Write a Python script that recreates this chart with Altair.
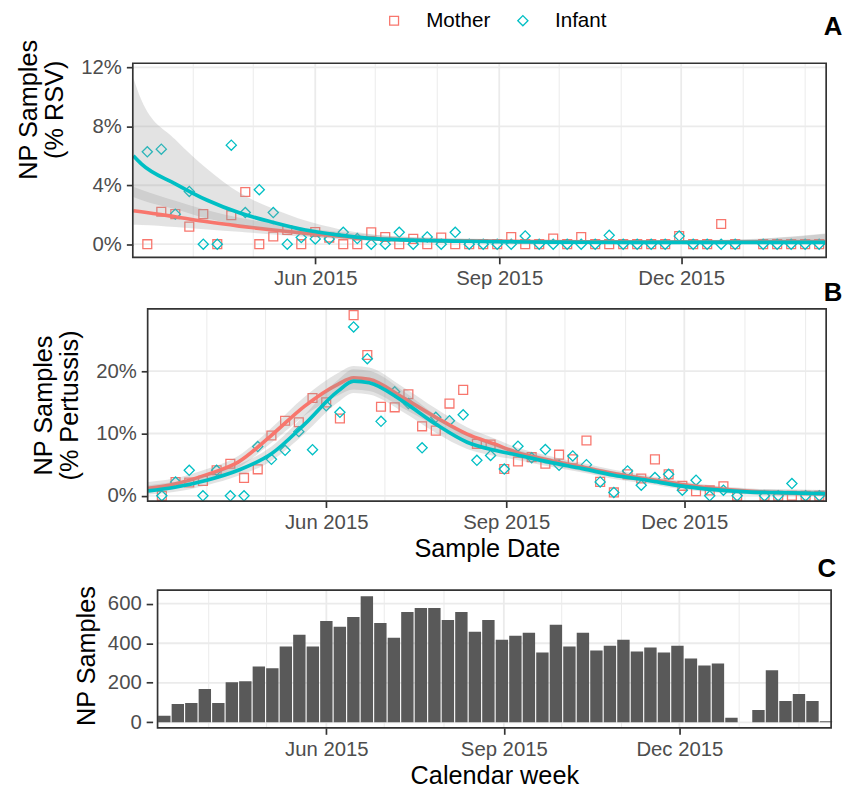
import altair as alt
import pandas as pd

FONT = "Liberation Sans"
RED = "#F8766D"
TEAL = "#00BFC4"
GRID = "#EBEBEB"
BORDER = "#333333"

# ---------------- data ----------------
week_dates = [d.strftime("%Y-%m-%d") for d in pd.date_range("2015-03-09", periods=50, freq="7D")]

weekly_samples = [33, 93, 98, 168, 98, 203, 208, 283, 273, 383, 443, 383, 513, 483, 533,
                  638, 503, 428, 558, 578, 578, 518, 558, 458, 518, 418, 438, 453, 353, 493,
                  383, 453, 363, 388, 418, 358, 378, 353, 388, 323, 288, 298, 23, None, 63,
                  263, 108, 143, 108, 5]

rsv_mother = [0, 2.2, 2.04, 1.19, 2.04, 0, 1.97, 3.54, 0, 0.52, 0.96, 0, 0.83, 0.45, 0, 0,
              0.81, 0.49, 0, 0.36, 0, 0.45, 0, 0, 0, 0, 0.49, 0, 0, 0.38, 0, 0.49, 0, 0, 0,
              0, 0, 0, 0.55, 0, 0, 1.37, 0, None, 0, 0, 0, 0, 0]
rsv_infant = [6.27, 6.45, 2.04, 3.58, 0, 0, 6.72, 2.15, 3.70, 2.15, 0, 0.45, 0.36, 0.35,
              0.81, 0.38, 0, 0, 0.81, 0, 0.49, 0, 0.81, 0, 0, 0, 0, 0.56, 0, 0, 0, 0, 0,
              0.6, 0, 0, 0, 0, 0.55, 0, 0, 0, 0, None, 0, 0, 0, 0, 0]

per_mother = [0, 2.2, 2.13, 2.4, 4.1, 5.15, 2.87, 4.25, 9.67, 12.05, 11.8, 15.7, 15.0, 12.4,
              29.0, 22.6, 14.3, 14.2, 16.3, 11.15, 10.46, 14.8, 17.0, 8.34, 8.23, 4.3, 5.5,
              6.2, 5.15, 6.6, 5.85, 8.87, 2.23, 0.54, 3.45, 2.77, 5.85, 3.45, 1.6, 0.75, 0.86,
              1.54, 0, None, 0, 0, 0, 0, 0]
per_infant = [0, 2.2, 4.1, 0, 4.1, 0, 0, 7.9, 5.85, 7.3, 10.3, 7.4, 14.45, 13.4, 27.1, 22.0,
              11.95, 16.7, 14.8, 7.7, 12.6, 12.05, 13.0, 5.7, 6.48, 4.3, 7.96, 6.1, 7.43, 4.9,
              6.4, 5.0, 2.23, 0.54, 4.0, 1.7, 2.93, 3.45, 0.9, 2.5, 0, 0.9, 0, None, 0, 0,
              1.97, 0, 0]

# fitted curves
rsv_curve_dates = ["2015-03-02", "2015-03-06", "2015-03-23", "2015-04-08", "2015-04-24",
                   "2015-05-11", "2015-05-27", "2015-06-12", "2015-06-28", "2015-07-15",
                   "2015-08-15", "2015-09-15", "2015-10-15", "2015-11-15", "2015-12-15",
                   "2016-01-15", "2016-02-11"]
rsv_m_fit = [2.27, 2.2, 1.86, 1.52, 1.23, 0.96, 0.74, 0.56, 0.40, 0.30, 0.22, 0.18, 0.16,
             0.15, 0.15, 0.16, 0.17]
rsv_m_lo = [1.32, 1.31, 1.17, 1.0, 0.84, 0.66, 0.5, 0.37, 0.25, 0.18, 0.13, 0.11, 0.1, 0.09,
            0.08, 0.07, 0.06]
rsv_m_hi = [3.9, 3.7, 2.95, 2.3, 1.8, 1.4, 1.1, 0.85, 0.65, 0.5, 0.38, 0.3, 0.26, 0.26, 0.28,
            0.42, 0.72]
rsv_i_fit = [6.0, 5.45, 4.1, 2.98, 2.13, 1.48, 0.96, 0.63, 0.40, 0.29, 0.2, 0.15, 0.13, 0.12,
             0.12, 0.12, 0.12]
rsv_i_lo = [3.2, 3.0, 2.37, 1.74, 1.3, 0.91, 0.58, 0.38, 0.23, 0.17, 0.11, 0.08, 0.07, 0.06,
            0.05, 0.04, 0.03]
rsv_i_hi = [11.3, 9.8, 7.1, 5.1, 3.5, 2.4, 1.6, 1.05, 0.7, 0.5, 0.36, 0.28, 0.24, 0.24, 0.26,
            0.4, 0.7]

per_curve_dates = ["2015-03-02", "2015-03-15", "2015-04-01", "2015-04-17", "2015-05-04",
                   "2015-05-21", "2015-06-07", "2015-06-15", "2015-06-23", "2015-07-10",
                   "2015-07-27", "2015-08-12", "2015-08-26", "2015-09-06", "2015-09-23",
                   "2015-10-10", "2015-10-26", "2015-11-12", "2015-11-29", "2015-12-16",
                   "2016-01-02", "2016-01-18", "2016-02-11"]
per_m_fit = [1.2, 1.86, 3.4, 5.4, 9.7, 14.4, 17.9, 18.95, 18.7, 15.8, 12.6, 9.9, 8.3, 7.0, 5.7,
             4.6, 3.57, 2.7, 1.86, 1.2, 0.75, 0.5, 0.35]
per_m_lo = [0.5, 1.1, 2.6, 4.5, 8.5, 12.9, 16.1, 17.05, 16.8, 14.1, 11.2, 8.8, 7.4, 6.2, 5.0,
            3.95, 2.97, 2.15, 1.36, 0.75, 0.3, 0.1, 0.0]
per_m_hi = [2.2, 2.76, 4.3, 6.4, 10.9, 15.9, 19.7, 20.85, 20.6, 17.5, 14.0, 11.0, 9.2, 7.8,
            6.4, 5.25, 4.17, 3.25, 2.36, 1.65, 1.2, 1.0, 0.95]
per_i_fit = [0.8, 1.34, 2.5, 4.1, 6.75, 11.5, 16.8, 18.4, 18.15, 15.2, 11.5, 8.6, 7.3, 6.6,
             5.4, 4.36, 3.3, 2.5, 1.6, 1.0, 0.64, 0.5, 0.35]
per_i_lo = [0.2, 0.6, 1.7, 3.2, 5.6, 10.0, 15.0, 16.5, 16.25, 13.5, 10.1, 7.5, 6.4, 5.8, 4.7,
            3.72, 2.7, 1.95, 1.1, 0.55, 0.2, 0.0, 0.0]
per_i_hi = [1.7, 2.2, 3.35, 5.0, 7.9, 13.0, 18.6, 20.3, 20.05, 16.9, 12.9, 9.7, 8.2, 7.4, 6.1,
            5.0, 3.9, 3.05, 2.1, 1.45, 1.09, 1.0, 0.95]

groups = ["Mother", "Infant"]
month_lines = ["2015-04-01", "2015-05-01", "2015-07-01", "2015-08-01", "2015-10-01",
               "2015-11-01", "2016-01-01", "2016-02-01"]
quarter_lines = ["2015-06-01", "2015-09-01", "2015-12-01"]

rsv_ticks = [0, 4, 8, 12]
per_ticks = [0, 10, 20]
n_ticks = [0, 200, 400, 600]


def dt(y, m, d, h=0):
    return alt.DateTime(year=y, month=m, date=d, hours=h, utc=True)


AB_DOM = [dt(2015, 3, 1, 18), dt(2016, 2, 11, 12)]
C_DOM = [dt(2015, 3, 5, 12), dt(2016, 2, 17, 16)]
X_TICKS = [dt(2015, 6, 1), dt(2015, 9, 1), dt(2015, 12, 1)]

W_AB = 700
W_C = 710

color_scale = alt.Scale(domain=groups, range=[RED, TEAL])
shape_scale = alt.Scale(domain=groups, range=["square", "diamond"])
size_scale = alt.Scale(domain=groups, range=[80, 105])


def x_axis(title=None, title_x=None):
    kw = dict(values=X_TICKS, labelExpr="utcFormat(datum.value, '%b %Y')", grid=False,
              domain=False, tickSize=6.5, tickWidth=1.7, tickColor=BORDER,
              labelColor="#4D4D4D", labelFontSize=20.5, labelPadding=5, labelFont=FONT)
    if title is None:
        kw["title"] = None
    else:
        kw.update(title=title, titleFontSize=25.5, titleFontWeight="normal", titleColor="black",
                  titleFont=FONT, titlePadding=4, titleX=title_x)
    return alt.Axis(**kw)


def y_axis(title, values, offset, pct=True, title_y=None, title_pad=8):
    kw = dict(values=values, grid=False, domain=False, tickSize=6.5, tickWidth=1.7,
              tickColor=BORDER, labelColor="#4D4D4D", labelFontSize=20.5, labelPadding=5,
              labelFont=FONT, offset=offset, title=title, titleFontSize=25.5,
              titleFontWeight="normal", titleColor="black", titleFont=FONT,
              titleLineHeight=27, titlePadding=title_pad)
    if pct:
        kw["labelExpr"] = "datum.value + '%'"
    if title_y is not None:
        kw["titleY"] = title_y
    return alt.Axis(**kw)


def frame_layers(xdom, ydom, yvals, xscale, yscale):
    vgrid_minor = alt.Chart(pd.DataFrame({"m": month_lines})).mark_rule(
        color=GRID, strokeWidth=1.0).encode(x=alt.X("m:T", scale=xscale))
    vgrid_major = alt.Chart(pd.DataFrame({"m": quarter_lines})).mark_rule(
        color=GRID, strokeWidth=1.8).encode(x=alt.X("m:T", scale=xscale))
    hgrid = alt.Chart(pd.DataFrame({"v": yvals})).mark_rule(color=GRID, strokeWidth=1.8).encode(
        y=alt.Y("v:Q", scale=yscale),
        x=alt.XDatum(xdom[0], type="temporal"),
        x2=alt.X2Datum(xdom[1]))
    border = alt.Chart(pd.DataFrame({"v": [0]})).mark_rect(
        fillOpacity=0, stroke=BORDER, strokeWidth=1.7).encode(
        x=alt.XDatum(xdom[0], type="temporal"), x2=alt.X2Datum(xdom[1]),
        y=alt.YDatum(ydom[0], type="quantitative"), y2=alt.Y2Datum(ydom[1]))
    return [vgrid_minor, vgrid_major, hgrid], border


def panel_ab(mother, infant, cdates, mfit, mlo, mhi, ifit, ilo, ihi, ydom, yvals, ytitle,
             xrange, yoffset, letter, letter_offset, width, height, legend, xtitle=None,
             xtitle_x=None, title_y=None, title_pad=8):
    xscale = alt.Scale(type="utc", domain=AB_DOM, range=xrange, nice=False)
    yscale = alt.Scale(domain=ydom, nice=False, zero=False)
    rows = []
    for i, d in enumerate(week_dates[:49]):
        if mother[i] is not None:
            rows.append({"week": d, "group": "Mother", "pct": mother[i]})
            rows.append({"week": d, "group": "Infant", "pct": infant[i]})
    pts_df = pd.DataFrame(rows)
    grids, border = frame_layers(AB_DOM, ydom, yvals, xscale, yscale)

    leg = alt.Legend(title=None, orient="none", legendX=253.4, legendY=-53.7,
                     direction="horizontal") if legend else None
    points = alt.Chart(pts_df).mark_point(filled=False, strokeWidth=1.3, opacity=1).encode(
        x=alt.X("week:T", scale=xscale, axis=x_axis(xtitle, xtitle_x)),
        y=alt.Y("pct:Q", scale=yscale,
                axis=y_axis(ytitle, yvals, yoffset, title_y=title_y, title_pad=title_pad)),
        color=alt.Color("group:N", scale=color_scale, legend=leg),
        shape=alt.Shape("group:N", scale=shape_scale, legend=leg),
        size=alt.Size("group:N", scale=size_scale, legend=None),
    )
    layers = grids + [points]
    for g, fit, lo, hi, col in [("Mother", mfit, mlo, mhi, RED), ("Infant", ifit, ilo, ihi, TEAL)]:
        cdf = pd.DataFrame({"d": cdates, "fit": fit, "lo": lo, "hi": hi})
        base = alt.Chart(cdf)
        ribbon = base.mark_area(color="#999999", opacity=0.28, interpolate="monotone").encode(
            x=alt.X("d:T", scale=xscale), y=alt.Y("lo:Q", scale=yscale), y2="hi:Q")
        line = base.mark_line(color=col, strokeWidth=3.7, interpolate="monotone").encode(
            x=alt.X("d:T", scale=xscale), y=alt.Y("fit:Q", scale=yscale))
        layers += [ribbon, line]
    layers.append(border)
    return alt.layer(*layers).properties(
        width=width, height=height,
        title=alt.TitleParams(letter, anchor="end", fontSize=26, fontWeight="bold", font=FONT,
                              color="black", dx=W_C - W_AB, offset=letter_offset))


panel_a = panel_ab(rsv_mother, rsv_infant, rsv_curve_dates, rsv_m_fit, rsv_m_lo, rsv_m_hi,
                   rsv_i_fit, rsv_i_lo, rsv_i_hi, [-0.894, 12.28], rsv_ticks,
                   ["NP Samples", "(% RSV)"], [0, W_AB], 0, "A", -0.7, W_AB, 196, True,
                   title_y=46.5, title_pad=13)
panel_b = panel_ab(per_mother, per_infant, per_curve_dates, per_m_fit, per_m_lo, per_m_hi,
                   per_i_fit, per_i_lo, per_i_hi, [-0.84, 30.0], per_ticks,
                   ["NP Samples", "(% Pertussis)"], [15, W_AB], -15, "B", 2.5, W_AB, 194, False,
                   xtitle="Sample Date", xtitle_x=(15 + W_AB) / 2, title_pad=13)

# panel C
C_YDOM = [-28, 668.5]
xscale_c = alt.Scale(type="utc", domain=C_DOM, range=[20, W_C], nice=False)
yscale_c = alt.Scale(domain=C_YDOM, nice=False, zero=False)
c_df = pd.DataFrame({"week": week_dates, "n": weekly_samples}).dropna()
grids_c, border_c = frame_layers(C_DOM, C_YDOM, n_ticks, xscale_c, yscale_c)
bars = alt.Chart(c_df).mark_bar(size=12.5, color="#595959", clip=True).encode(
    x=alt.X("week:T", scale=xscale_c, axis=x_axis("Calendar week", (20 + W_C) / 2)),
    y=alt.Y("n:Q", scale=yscale_c,
            axis=y_axis("NP Samples", n_ticks, -20, pct=False, title_y=66, title_pad=8)),
)
panel_c = alt.layer(*grids_c, bars, border_c).properties(
    width=W_C, height=139,
    title=alt.TitleParams("C", anchor="end", fontSize=26, fontWeight="bold", font=FONT,
                          color="black", dx=0, offset=3.2))

top = alt.VConcatChart(vconcat=[panel_a, panel_b], spacing=-10).resolve_scale(
    x="independent", y="independent")
chart = alt.VConcatChart(vconcat=[top, panel_c], spacing=-7).resolve_scale(
    x="independent", y="independent").properties(
    padding={"left": 8, "top": -2, "right": 0, "bottom": 0}
).configure_view(stroke=None).configure_legend(
    labelFont=FONT, labelFontSize=20.8, labelColor="black", symbolStrokeWidth=1.3,
    symbolSize=90, labelOffset=22, columnPadding=22, padding=0
).configure_axis(labelFont=FONT, titleFont=FONT)

chart.save("out.html", embed_options={"renderer": "svg", "actions": False})
